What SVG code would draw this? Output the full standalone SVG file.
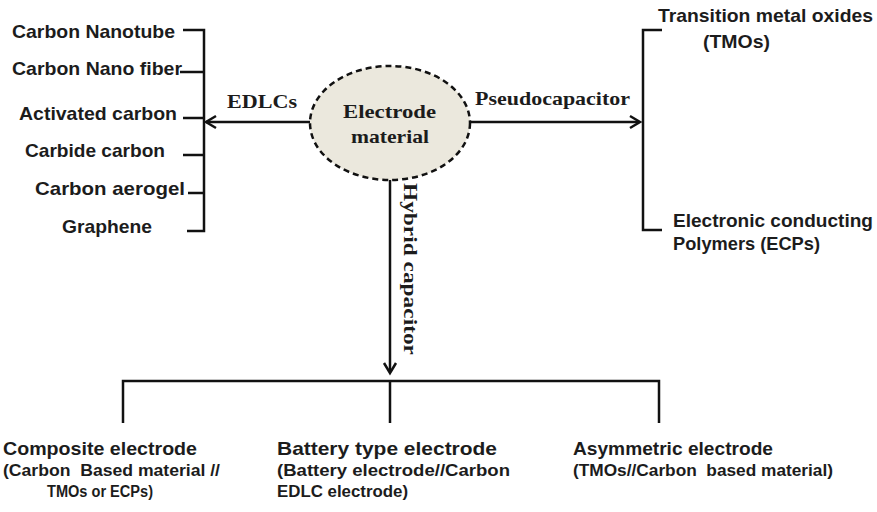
<svg xmlns="http://www.w3.org/2000/svg" width="877" height="512" viewBox="0 0 877 512">
<style>
.s{font-family:"Liberation Sans",Arial,sans-serif;font-weight:bold;fill:#1c1c1c;font-size:19px}
.sm{font-family:"Liberation Sans",Arial,sans-serif;font-weight:bold;fill:#1c1c1c;font-size:16px}
.r{font-family:"Liberation Serif","Times New Roman",serif;font-weight:bold;fill:#1c1c1c;font-size:19px}
.ln{stroke:#111;stroke-width:2.5;fill:none}
.ah{stroke:#111;stroke-width:2.5;fill:none;stroke-linejoin:miter}
</style>
<rect width="877" height="512" fill="#fff"/>
<g id="connectors">
<path class="ln" d="M183 30H204V231H187M180 72H204M183 118H204M183 155H204M188 193H204"/>
<path class="ln" d="M310 122H206"/>
<path class="ah" d="M216 116L206 122L216 128"/>
<path class="ln" d="M470 122H638"/>
<path class="ah" d="M630 116L640 122L630 128"/>
<path class="ln" d="M662 30H643V230H662"/>
<path class="ln" d="M390 179V371"/>
<path class="ah" d="M384 363L390 373L396 363"/>
<path class="ln" d="M123 423V381H659V423M390 381V423"/>
<text class="r" transform="translate(404,183) rotate(90)" font-size="22" textLength="172" lengthAdjust="spacingAndGlyphs">Hybrid capacitor</text>
<text class="r" x="227" y="108" textLength="70" lengthAdjust="spacingAndGlyphs">EDLCs</text>
<text class="r" x="475" y="105" textLength="155" lengthAdjust="spacingAndGlyphs">Pseudocapacitor</text>
</g>
<g id="electrode">
<ellipse cx="390" cy="123" rx="80" ry="57" fill="#ebe8dd" stroke="#111" stroke-width="2.5" stroke-dasharray="6 4"/>
<text class="r" x="343" y="118" font-size="21" textLength="93" lengthAdjust="spacingAndGlyphs">Electrode</text>
<text class="r" x="351" y="143" font-size="21" textLength="78" lengthAdjust="spacingAndGlyphs">material</text>
</g>
<g id="edlc-list">
<text class="s" x="12" y="38" textLength="163" lengthAdjust="spacingAndGlyphs">Carbon Nanotube</text>
<text class="s" x="12" y="75" textLength="170" lengthAdjust="spacingAndGlyphs">Carbon Nano fiber</text>
<text class="s" x="19" y="120" textLength="158" lengthAdjust="spacingAndGlyphs">Activated carbon</text>
<text class="s" x="25" y="157" textLength="140" lengthAdjust="spacingAndGlyphs">Carbide carbon</text>
<text class="s" x="35" y="195" textLength="150" lengthAdjust="spacingAndGlyphs">Carbon aerogel</text>
<text class="s" x="62" y="233" textLength="90" lengthAdjust="spacingAndGlyphs">Graphene</text>
</g>
<g id="tmo">
<text class="s" x="658" y="22" textLength="215" lengthAdjust="spacingAndGlyphs">Transition metal oxides</text>
<text class="s" x="703" y="48" textLength="67" lengthAdjust="spacingAndGlyphs">(TMOs)</text>
</g>
<g id="ecp">
<text class="s" x="673" y="227" textLength="200" lengthAdjust="spacingAndGlyphs">Electronic conducting</text>
<text class="s" x="673" y="250" textLength="147" lengthAdjust="spacingAndGlyphs">Polymers (ECPs)</text>
</g>
<g id="composite">
<text class="s" x="3" y="455" textLength="194" lengthAdjust="spacingAndGlyphs">Composite electrode</text>
<text class="sm" x="3" y="476" textLength="217" lengthAdjust="spacingAndGlyphs" style="white-space:pre">(Carbon  Based material //</text>
<text class="sm" x="47" y="497" textLength="106" lengthAdjust="spacingAndGlyphs">TMOs or ECPs)</text>
</g>
<g id="battery">
<text class="s" x="277" y="455" textLength="220" lengthAdjust="spacingAndGlyphs">Battery type electrode</text>
<text class="sm" x="277" y="476" textLength="233" lengthAdjust="spacingAndGlyphs">(Battery electrode//Carbon</text>
<text class="sm" x="277" y="497" textLength="131" lengthAdjust="spacingAndGlyphs">EDLC electrode)</text>
</g>
<g id="asymmetric">
<text class="s" x="573" y="455" textLength="200" lengthAdjust="spacingAndGlyphs">Asymmetric electrode</text>
<text class="sm" x="573" y="476" textLength="260" lengthAdjust="spacingAndGlyphs" style="white-space:pre">(TMOs//Carbon  based material)</text>
</g>
</svg>
